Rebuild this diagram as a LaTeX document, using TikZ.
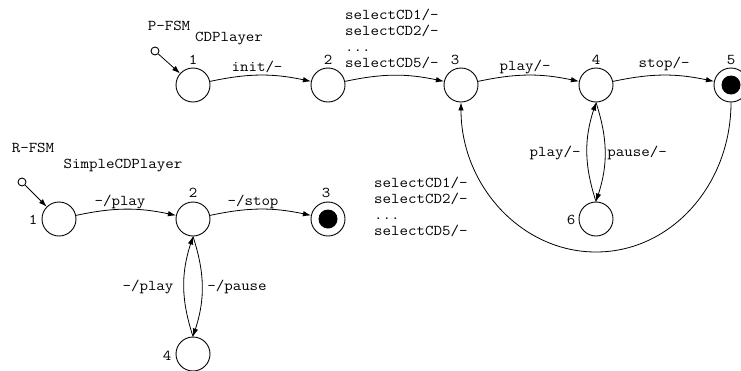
\documentclass[tikz,border=0pt]{standalone}
\usepackage{fontspec}
\setmonofont[FakeStretch=1.1]{Latin Modern Mono}
\usetikzlibrary{arrows.meta}
\begin{document}
\begin{tikzpicture}[x=1pt,y=-1pt,
  state/.style={circle,draw,line width=0.9pt,minimum size=34pt,inner sep=0pt},
  final/.style={state,path picture={\fill (path picture bounding box.center) circle (9.5pt);}},
  initc/.style={circle,draw,line width=0.9pt,minimum size=8pt,inner sep=0pt},
  arr/.style={line width=0.8pt,-{Latex[length=8pt,width=5.5pt]}},
  lbl/.style={font=\ttfamily\fontsize{15}{16}\selectfont,inner sep=0pt,align=left}]
\clip (0,0) rectangle (741,370);
\fill[white] (0,0) rectangle (741,370);
% P-FSM
\node[lbl] (ptitle) at (169,26) {P-FSM};
\node[lbl] (pname) at (229,39) {CDPlayer};
\node[initc] (pi) at (155,51) {};
\node[state] (p1) at (193,85) {};
\node[state] (p2) at (328,85) {};
\node[state] (p3) at (461,85) {};
\node[state] (p4) at (596,85) {};
\node[final] (p5) at (731,85) {};
\node[state] (p6) at (596,219) {};
\node[lbl] (p1l) at (193,60) {1};
\node[lbl] (p2l) at (328,60) {2};
\node[lbl] (p3l) at (455,60) {3};
\node[lbl] (p4l) at (596,60) {4};
\node[lbl] (p5l) at (731,60) {5};
\node[lbl] (p6l) at (571,220) {6};
\draw[arr] (pi) -- (p1);
\draw[arr] (p1) to[bend left=12] (p2);
\draw[arr] (p2) to[bend left=12] (p3);
\draw[arr] (p3) to[bend left=12] (p4);
\draw[arr] (p4) to[bend left=12] (p5);
\draw[arr] (p6.north) to[bend left=18] (p4.south);
\draw[arr] (p4.south) to[bend left=18] (p6.north);
\draw[arr] (p5.south) .. controls (731,185) and (671,252) .. (596,252)
  .. controls (521,252) and (461,185) .. (p3.south);
\node[lbl] (e12) at (257,67) {init/-};
\node[lbl,anchor=west] (e23) at (345,39) {selectCD1/-\\selectCD2/-\\...\\selectCD5/-};
\node[lbl] (e34) at (525,67) {play/-};
\node[lbl] (e45) at (664,64) {stop/-};
\node[lbl] (e64) at (555,153) {play/-};
\node[lbl] (e46) at (637,153) {pause/-};
\node[lbl,anchor=west] (e53) at (374,207) {selectCD1/-\\selectCD2/-\\...\\selectCD5/-};
% R-FSM
\node[lbl] (rtitle) at (33,148) {R-FSM};
\node[lbl] (rname) at (123,166) {SimpleCDPlayer};
\node[initc] (ri) at (22,182) {};
\node[state] (r1) at (59,219) {};
\node[state] (r2) at (193,219) {};
\node[final] (r3) at (328,219) {};
\node[state] (r4) at (193,354) {};
\node[lbl] (r1l) at (33,220) {1};
\node[lbl] (r2l) at (193,193) {2};
\node[lbl] (r3l) at (326,193) {3};
\node[lbl] (r4l) at (167,356) {4};
\draw[arr] (ri) -- (r1);
\draw[arr] (r1) to[bend left=12] (r2);
\draw[arr] (r2) to[bend left=12] (r3);
\draw[arr] (r4.north) to[bend left=18] (r2.south);
\draw[arr] (r2.south) to[bend left=18] (r4.north);
\node[lbl] (f12) at (120,202) {-/play};
\node[lbl] (f23) at (253,202) {-/stop};
\node[lbl] (f42) at (148,287) {-/play};
\node[lbl] (f24) at (237,287) {-/pause};
\end{tikzpicture}
\end{document}
